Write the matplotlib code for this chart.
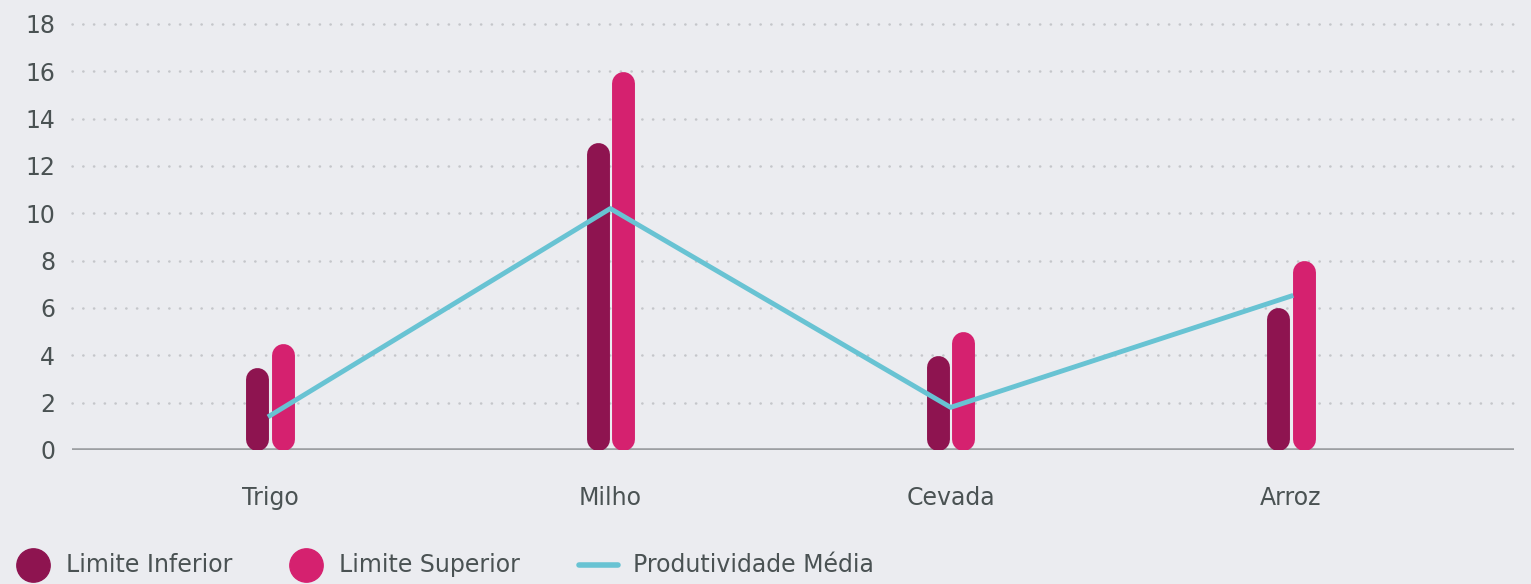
import matplotlib.pyplot as plt
from matplotlib.lines import Line2D

plt.rcParams['font.family'] = ['DejaVu Sans']

culturas = ['Trigo', 'Milho', 'Cevada', 'Arroz']
limite_inferior = [3.5, 13.0, 4.0, 6.0]
limite_superior = [4.5, 16.0, 5.0, 8.0]
produtividade_media = [1.45, 10.2, 1.8, 6.5]
yticks = [0, 2, 4, 6, 8, 10, 12, 14, 16, 18]

bg = '#EBECF0'
cor_inf = '#8E1450'
cor_sup = '#D5216F'
cor_linha = '#68C3D3'
cor_texto = '#4A5253'
fs = 17

W, H = 1531, 584
fig = plt.figure(figsize=(W / 100, H / 100), dpi=100, facecolor=bg)
ax = fig.add_axes([0.047, 0.2295, 0.942, 0.7295], facecolor=bg)
ax.set_xlim(-0.582, 3.656)
ax.set_ylim(0, 18)

# dotted horizontal grid
for t in yticks[1:]:
    ax.plot([-0.582, 3.656], [t, t], color='#C4C6CA', lw=1.8,
            linestyle=(0, (0.1, 4.2)), solid_capstyle='round',
            dash_capstyle='round', zorder=1, clip_on=False)

ax.axhline(0, color='#9C9FA2', lw=2.6, zorder=2)

# bars as thick lines with rounded ends
lw_pt = 16.5
fig.canvas.draw()
ax_h_px = ax.get_window_extent().height
r = (lw_pt / 2 * fig.dpi / 72) / (ax_h_px / 18)
off = 0.037
for i in range(len(culturas)):
    ax.plot([i - off, i - off], [r, limite_inferior[i] - r], color=cor_inf,
            lw=lw_pt, solid_capstyle='round', zorder=3)
    ax.plot([i + off, i + off], [r, limite_superior[i] - r], color=cor_sup,
            lw=lw_pt, solid_capstyle='round', zorder=3)

ax.plot(range(len(culturas)), produtividade_media, color=cor_linha, lw=3.5,
        zorder=4)

for s in ax.spines.values():
    s.set_visible(False)
ax.set_yticks(yticks)
ax.set_yticklabels([str(t) for t in yticks])
ax.set_xticks(range(len(culturas)))
ax.set_xticklabels(culturas)
ax.tick_params(axis='both', length=0, labelsize=fs, labelcolor=cor_texto)
ax.tick_params(axis='y', pad=12)
ax.tick_params(axis='x', pad=26)

# legend drawn in figure pixels
ly = 1 - 565 / H
fig.add_artist(Line2D([33 / W], [ly], marker='o', markersize=24, color=cor_inf,
                      transform=fig.transFigure))
fig.text(66 / W, ly, 'Limite Inferior', fontsize=fs, color=cor_texto,
         va='center', ha='left')
fig.add_artist(Line2D([306 / W], [ly], marker='o', markersize=24, color=cor_sup,
                      transform=fig.transFigure))
fig.text(339 / W, ly, 'Limite Superior', fontsize=fs, color=cor_texto,
         va='center', ha='left')
fig.add_artist(Line2D([579 / W, 618 / W], [ly, ly], lw=4, color=cor_linha,
                      solid_capstyle='round', transform=fig.transFigure))
fig.text(633 / W, ly, 'Produtividade Média', fontsize=fs, color=cor_texto,
         va='center', ha='left')

fig.savefig('out.png', dpi=100, facecolor=bg)
